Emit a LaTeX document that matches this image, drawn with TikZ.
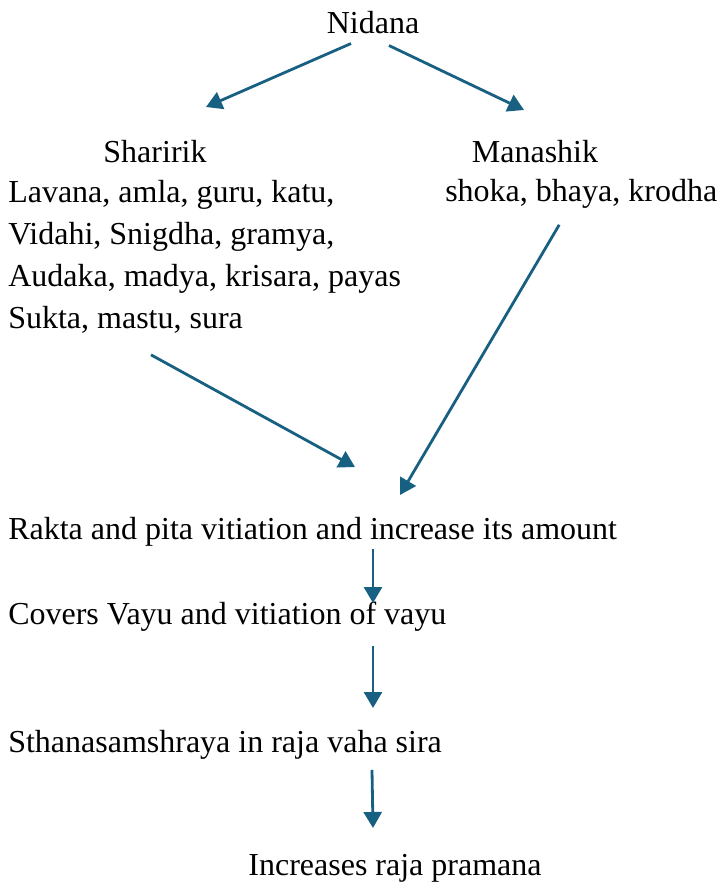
\documentclass[tikz,border=0pt]{standalone}
\usepackage{fontspec}
\setmainfont{Liberation Serif}
\usetikzlibrary{arrows.meta}
\definecolor{flowblue}{RGB}{24,96,130}
\tikzset{
  txt/.style={inner sep=0pt, font=\fontsize{24}{31.5}\selectfont},
  arr/.style={-{Triangle[length=12pt,width=13.5pt]}, line width=2.1pt, draw=flowblue}
}
\begin{document}
\begin{tikzpicture}[x=0.75pt,y=-0.75pt]
  \useasboundingbox (0,0) rectangle (717,885);
  % headings
  \node[txt] (nidana) at (373,23) {Nidana};
  \node[txt] (sharirik) at (155,152) {Sharirik};
  \node[txt] (manashik) at (535,152) {Manashik};
  % causes
  \node[txt, anchor=west, align=left] (sharlist) at (8,257)
       {Lavana, amla, guru, katu,\\Vidahi, Snigdha, gramya,\\Audaka, madya, krisara, payas\\Sukta, mastu, sura};
  \node[txt, anchor=west] (manlist) at (445,194) {shoka, bhaya, krodha};
  % chain
  \node[txt, anchor=west] (rakta) at (8,532) {Rakta and pita vitiation and increase its amount};
  \node[txt, anchor=west] (covers) at (8,617) {Covers Vayu and vitiation of vayu};
  \node[txt, anchor=west] (sthana) at (8,745) {Sthanasamshraya in raja vaha sira};
  \node[txt] (raja) at (395,868) {Increases raja pramana};
  % free arrow ends
  \coordinate (sh-end) at (206,107);
  \coordinate (mn-end) at (524,110);
  \coordinate (meet-l) at (355,467);
  \coordinate (meet-r) at (400,495);
  \coordinate (to-covers) at (373,603);
  \coordinate (to-sthana) at (373,708);
  \coordinate (to-raja) at (373,828);
  \draw[arr] (nidana.south) ++(-22,9) -- (sh-end);
  \draw[arr] (nidana.south) ++(16,11) -- (mn-end);
  \draw[arr] (sharlist.south west) ++(143,21) -- (meet-l);
  \draw[arr] (manlist.south) ++(-22,16) -- (meet-r);
  \draw[arr] (rakta.south -| to-covers) ++(0,2) -- (to-covers);
  \draw[arr] (covers.south -| to-sthana) ++(0,14) -- (to-sthana);
  \draw[arr] (sthana.south -| to-raja) ++(-1,10) -- (to-raja);
\end{tikzpicture}
\end{document}
